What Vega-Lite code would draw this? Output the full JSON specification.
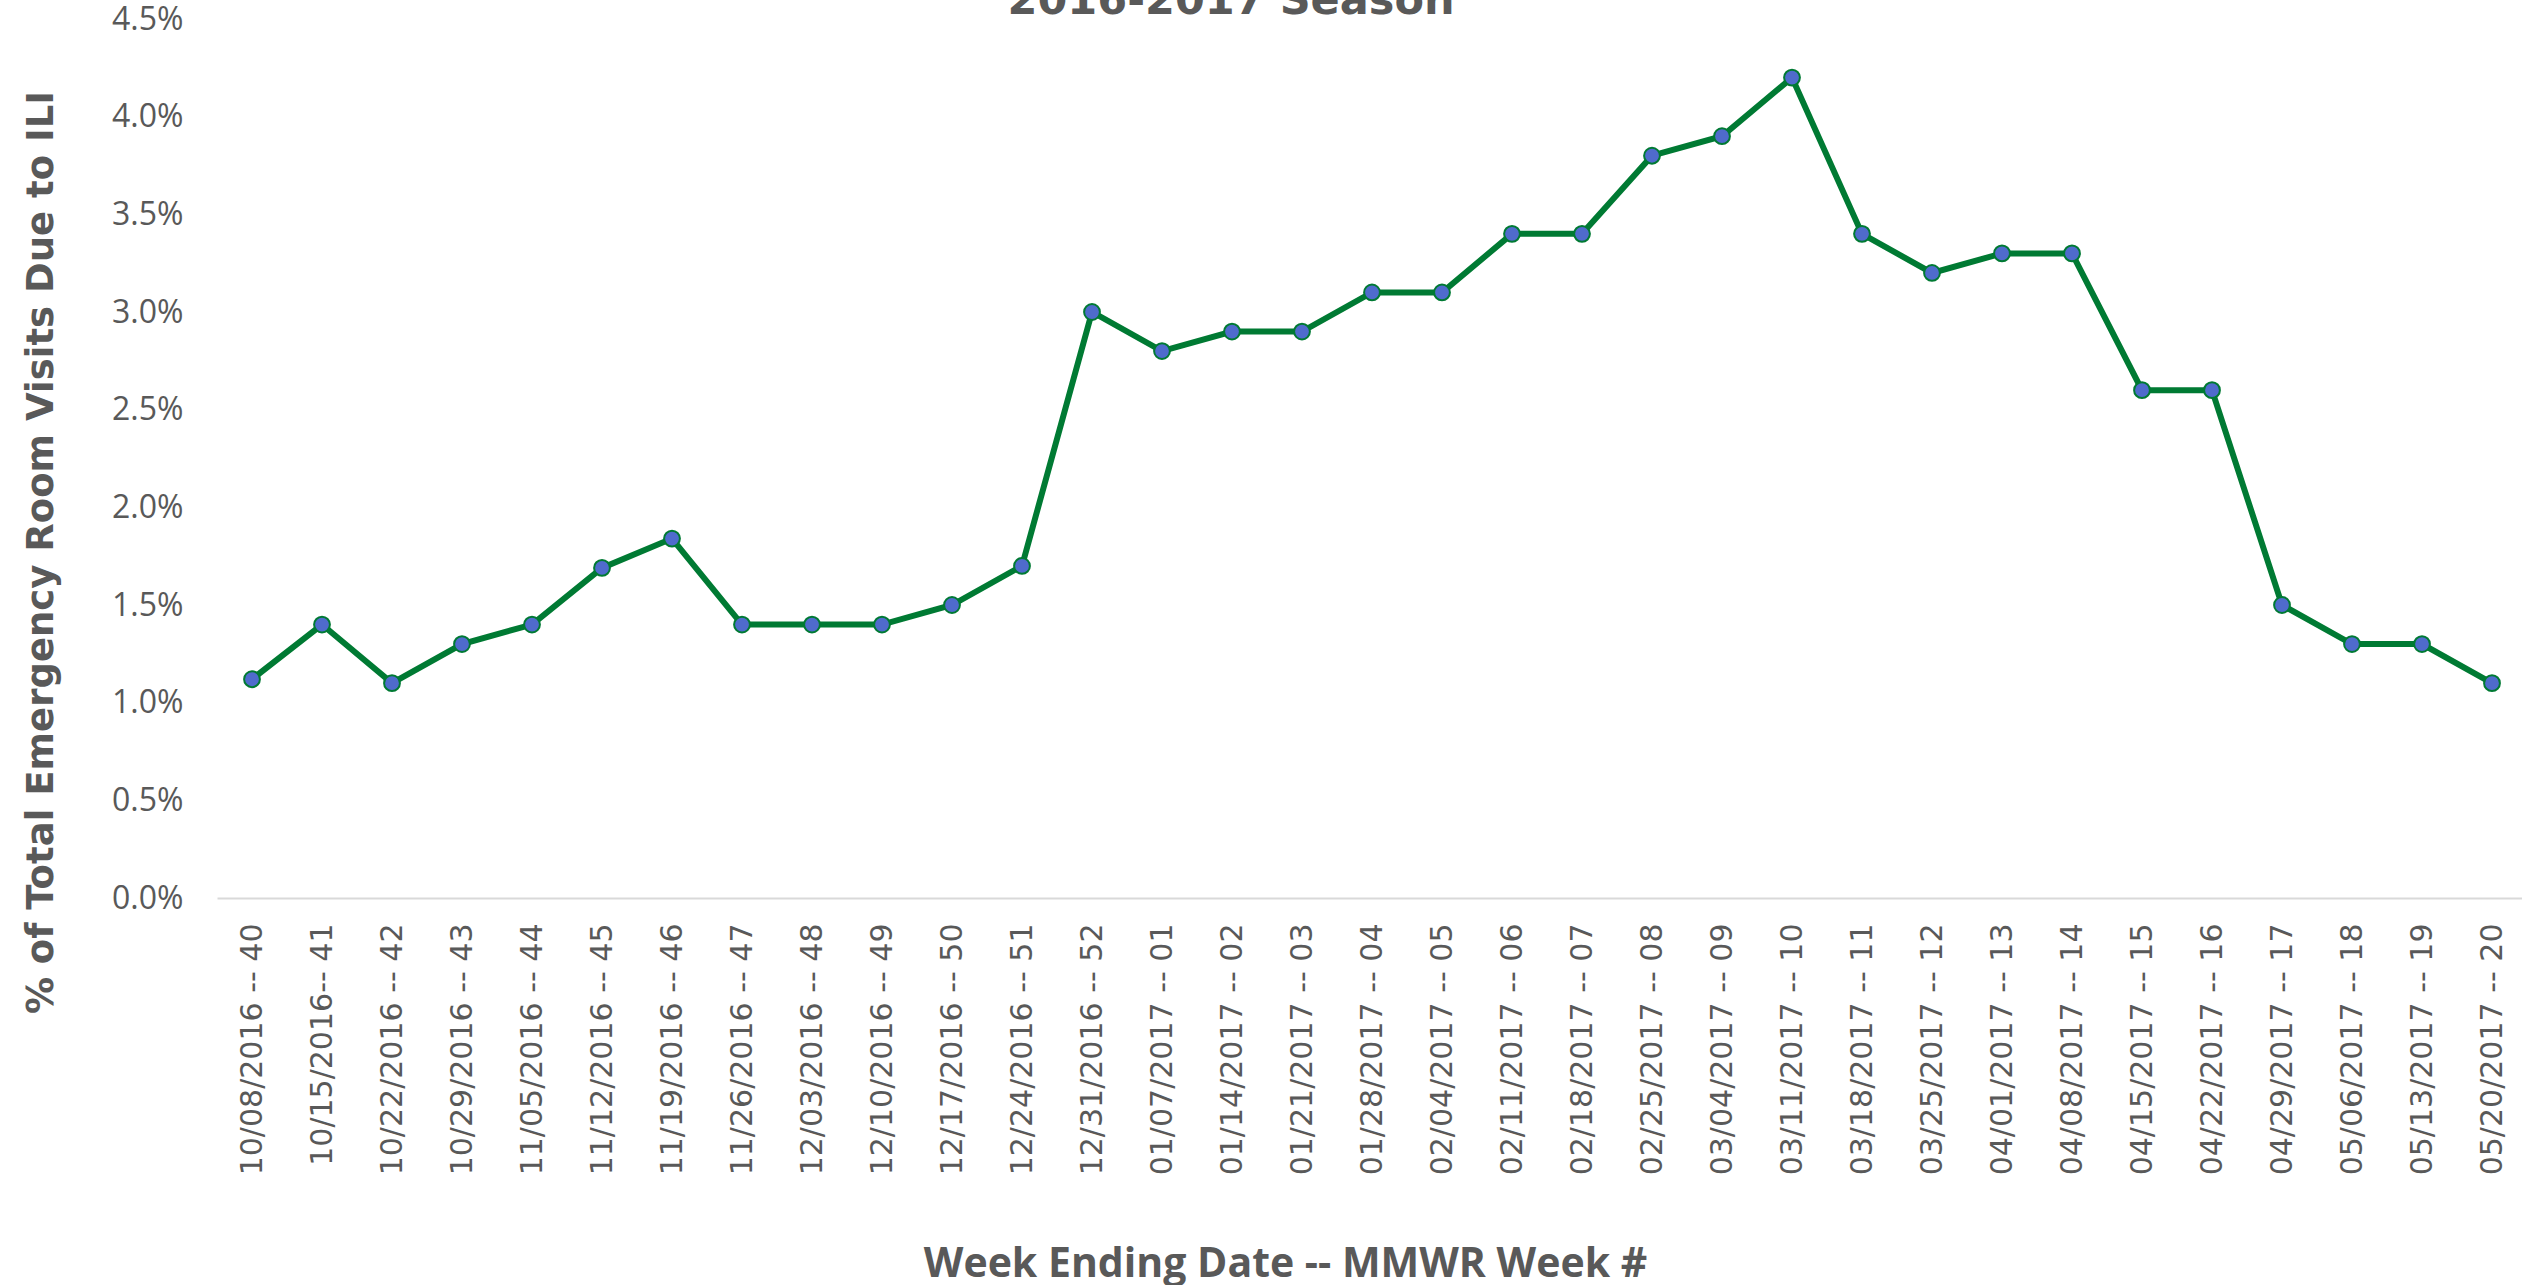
{
  "$schema": "https://vega.github.io/schema/vega-lite/v6.json",
  "autosize": {"type": "none"},
  "padding": {"left": 217, "top": 19, "right": 0, "bottom": 387},
  "width": 2310,
  "height": 879,
  "background": "white",
  "config": {"view": {"stroke": null}},
  "title": {
    "text": "2016-2017 Season",
    "font": "DejaVu Sans",
    "fontWeight": "bold",
    "fontSize": 43,
    "color": "#595959",
    "anchor": "middle",
    "frame": "group",
    "baseline": "alphabetic",
    "offset": -54,
    "dx": -141
  },
  "data": {
    "values": [
      {"week": "10/08/2016 -- 40", "pct": 0.0112},
      {"week": "10/15/2016-- 41", "pct": 0.014},
      {"week": "10/22/2016 -- 42", "pct": 0.011},
      {"week": "10/29/2016 -- 43", "pct": 0.013},
      {"week": "11/05/2016 -- 44", "pct": 0.014},
      {"week": "11/12/2016 -- 45", "pct": 0.0169},
      {"week": "11/19/2016 -- 46", "pct": 0.0184},
      {"week": "11/26/2016 -- 47", "pct": 0.014},
      {"week": "12/03/2016 -- 48", "pct": 0.014},
      {"week": "12/10/2016 -- 49", "pct": 0.014},
      {"week": "12/17/2016 -- 50", "pct": 0.015},
      {"week": "12/24/2016 -- 51", "pct": 0.017},
      {"week": "12/31/2016 -- 52", "pct": 0.030},
      {"week": "01/07/2017 -- 01", "pct": 0.028},
      {"week": "01/14/2017 -- 02", "pct": 0.029},
      {"week": "01/21/2017 -- 03", "pct": 0.029},
      {"week": "01/28/2017 -- 04", "pct": 0.031},
      {"week": "02/04/2017 -- 05", "pct": 0.031},
      {"week": "02/11/2017 -- 06", "pct": 0.034},
      {"week": "02/18/2017 -- 07", "pct": 0.034},
      {"week": "02/25/2017 -- 08", "pct": 0.038},
      {"week": "03/04/2017 -- 09", "pct": 0.039},
      {"week": "03/11/2017 -- 10", "pct": 0.042},
      {"week": "03/18/2017 -- 11", "pct": 0.034},
      {"week": "03/25/2017 -- 12", "pct": 0.032},
      {"week": "04/01/2017 -- 13", "pct": 0.033},
      {"week": "04/08/2017 -- 14", "pct": 0.033},
      {"week": "04/15/2017 -- 15", "pct": 0.026},
      {"week": "04/22/2017 -- 16", "pct": 0.026},
      {"week": "04/29/2017 -- 17", "pct": 0.015},
      {"week": "05/06/2017 -- 18", "pct": 0.013},
      {"week": "05/13/2017 -- 19", "pct": 0.013},
      {"week": "05/20/2017 -- 20", "pct": 0.011}
    ]
  },
  "encoding": {
    "x": {
      "field": "week",
      "type": "ordinal",
      "sort": null,
      "scale": {"type": "point", "padding": 0.5},
      "axis": {
        "title": "Week Ending Date -- MMWR Week #",
        "titleFont": "Open Sans",
        "titleFontWeight": "bold",
        "titleFontSize": 41,
        "titleColor": "#595959",
        "titleAlign": "center",
        "titleBaseline": "alphabetic",
        "titleX": 1068,
        "titleY": 378,
        "labelAngle": -90,
        "labelFont": "DejaVu Sans",
        "labelFontSize": 30,
        "labelColor": "#595959",
        "labelPadding": 25,
        "labelLimit": 500,
        "labelOverlap": false,
        "ticks": false,
        "tickSize": 0,
        "grid": false,
        "domainColor": "#d9d9d9",
        "domainWidth": 2
      }
    },
    "y": {
      "field": "pct",
      "type": "quantitative",
      "scale": {"domain": [0, 0.045], "nice": false, "zero": true},
      "axis": {
        "values": [0, 0.005, 0.01, 0.015, 0.02, 0.025, 0.03, 0.035, 0.04, 0.045],
        "format": ".1%",
        "title": "% of Total Emergency Room Visits Due to ILI",
        "titleFont": "DejaVu Sans",
        "titleFontWeight": "bold",
        "titleFontSize": 37,
        "titleColor": "#595959",
        "titleAngle": -90,
        "titleAlign": "center",
        "titleBaseline": "alphabetic",
        "titleX": -165,
        "titleY": 533,
        "labelFont": "Open Sans",
        "labelFontSize": 32,
        "labelColor": "#595959",
        "labelPadding": 34,
        "ticks": false,
        "tickSize": 0,
        "grid": false,
        "domain": false
      }
    }
  },
  "layer": [
    {
      "mark": {"type": "line", "color": "#007A33", "strokeWidth": 6}
    },
    {
      "mark": {"type": "point", "filled": true, "fill": "#4F6BCC", "stroke": "#007A33", "strokeWidth": 2, "size": 250, "opacity": 1}
    }
  ]
}
